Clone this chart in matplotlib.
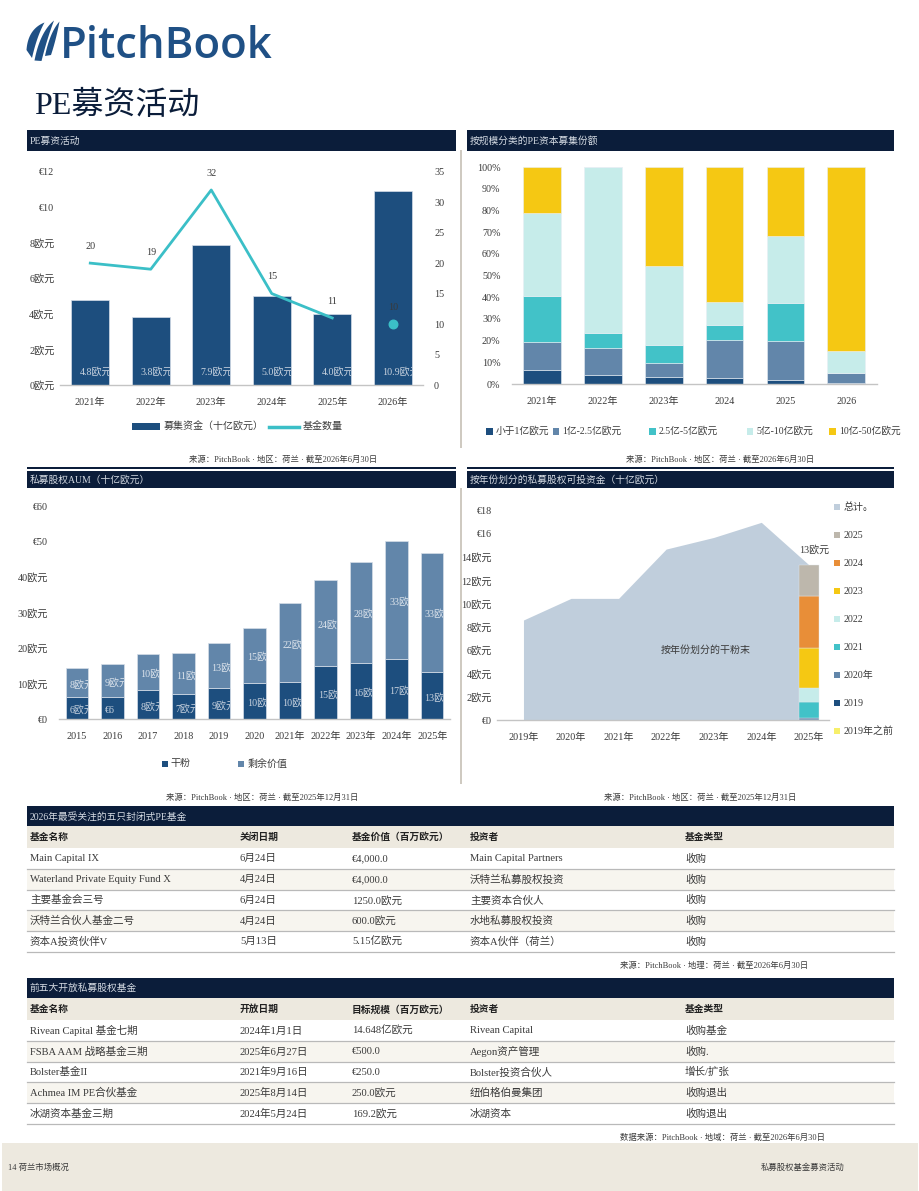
import numpy as np
import matplotlib
matplotlib.use('Agg')
import matplotlib.pyplot as plt
from matplotlib.patches import Rectangle, Polygon

FAM = ['Liberation Serif', 'Noto Sans CJK SC']
plt.rcParams['font.family'] = FAM
plt.rcParams['axes.unicode_minus'] = False

W, H = 920, 1191

# ---------------- data ----------------
fund_years = ['2021年', '2022年', '2023年', '2024年', '2025年', '2026年']
capital_raised = [4.8, 3.8, 7.9, 5.0, 4.0, 10.9]
capital_labels = ['4.8欧元', '3.8欧元', '7.9欧元', '5.0欧元', '4.0欧元', '10.9欧元']
fund_count = [20, 19, 32, 15, 11, 10]
left_ticks_1 = [0, 2, 4, 6, 8, 10, 12]
left_ticklabels_1 = ['0欧元', '2欧元', '4欧元', '6欧元', '8欧元', '€10', '€12']
right_ticks_1 = [0, 5, 10, 15, 20, 25, 30, 35]

size_years = ['2021年', '2022年', '2023年', '2024', '2025', '2026']
size_buckets = ['小于1亿欧元', '1亿-2.5亿欧元', '2.5亿-5亿欧元', '5亿-10亿欧元', '10亿-50亿欧元']
share_lt100m = [6.5, 4.0, 3.4, 2.9, 1.8, 0.5]
share_100_250m = [12.7, 12.5, 6.1, 17.3, 18.2, 4.4]
share_250_500m = [21.6, 7.2, 8.3, 7.2, 17.4, 0.0]
share_500m_1b = [38.3, 76.3, 36.7, 10.3, 30.9, 10.5]
share_1b_5b = [20.9, 0.0, 45.5, 62.3, 31.7, 84.6]
pct_ticks = [0, 10, 20, 30, 40, 50, 60, 70, 80, 90, 100]
pct_ticklabels = ['0%', '10%', '20%', '30%', '40%', '50%', '60%', '70%', '80%', '90%', '100%']

aum_years = ['2015', '2016', '2017', '2018', '2019', '2020', '2021年', '2022年', '2023年', '2024年', '2025年']
dry_powder = [6.3, 6.2, 8.3, 7.2, 8.7, 10.3, 10.5, 14.9, 15.9, 17.1, 13.4]
remaining_value = [8.1, 9.4, 10.0, 11.4, 12.9, 15.4, 22.1, 24.4, 28.4, 33.1, 33.4]
dry_labels = ['6欧元', '€6', '8欧元', '7欧元', '9欧元', '10欧元', '10欧元', '15欧元', '16欧元', '17欧元', '13欧元']
rem_labels = ['8欧元', '9欧元', '10欧元', '11欧元', '13欧元', '15欧元', '22欧元', '24欧元', '28欧元', '33欧元', '33欧元']
aum_ticks = [0, 10, 20, 30, 40, 50, 60]
aum_ticklabels = ['€0', '10欧元', '20欧元', '30欧元', '40欧元', '€50', '€60']

dp_years = ['2019年', '2020年', '2021年', '2022年', '2023年', '2024年', '2025年']
dp_total = [8.6, 10.46, 10.46, 14.7, 15.7, 17.0, 13.35]
vintages = ['2019年之前', '2019', '2020年', '2021', '2022', '2023', '2024', '2025']
vintage_values = [0.0, 0.04, 0.13, 1.38, 1.24, 3.40, 4.44, 2.72]
dp_ticks = [0, 2, 4, 6, 8, 10, 12, 14, 16, 18]
dp_ticklabels = ['€0', '2欧元', '4欧元', '6欧元', '8欧元', '10欧元', '12欧元', '14欧元', '€16', '€18']
dp_legend = ['总计。', '2025', '2024', '2023', '2022', '2021', '2020年', '2019', '2019年之前']

closed_header = ['基金名称', '关闭日期', '基金价值（百万欧元）', '投资者', '基金类型']
closed_rows = [
    ['Main Capital IX', '6月24日', '€4,000.0', 'Main Capital Partners', '收购'],
    ['Waterland Private Equity Fund X', '4月24日', '€4,000.0', '沃特兰私募股权投资', '收购'],
    ['主要基金会三号', '6月24日', '1250.0欧元', '主要资本合伙人', '收购'],
    ['沃特兰合伙人基金二号', '4月24日', '600.0欧元', '水地私募股权投资', '收购'],
    ['资本A投资伙伴V', '5月13日', '5.15亿欧元', '资本A伙伴（荷兰）', '收购'],
]
open_header = ['基金名称', '开放日期', '目标规模（百万欧元）', '投资者', '基金类型']
open_rows = [
    ['Rivean Capital 基金七期', '2024年1月1日', '14.648亿欧元', 'Rivean Capital', '收购基金'],
    ['FSBA AAM 战略基金三期', '2025年6月27日', '€500.0', 'Aegon资产管理', '收购.'],
    ['Bolster基金II', '2021年9月16日', '€250.0', 'Bolster投资合伙人', '增长/扩张'],
    ['Achmea IM PE合伙基金', '2025年8月14日', '250.0欧元', '纽伯格伯曼集团', '收购退出'],
    ['冰湖资本基金三期', '2024年5月24日', '169.2欧元', '冰湖资本', '收购退出'],
]

# ---------------- colours ----------------
NAVY_BAND = '#0b1d3a'
NAVY = '#1d4e7e'
STEEL = '#6286aa'
TEAL = '#42c2c8'
LCYAN = '#c6ecea'
YELLOW = '#f5c813'
ORANGE = '#e88e38'
GREY = '#bdb7ac'
LYELLOW = '#f7ef6a'
AREA = '#c0cedc'
LINE = '#3bbfc7'
BEIGE = '#ede9df'
ALT = '#f7f5ef'
TXT = '#3a3a3a'
BANDTXT = '#d5dbe3'
TICK_FS = 7.3

fig = plt.figure(figsize=(W / 100, H / 100), dpi=100)
fig.patch.set_facecolor('white')

bg = fig.add_axes([0, 0, 1, 1])
bg.set_xlim(0, W)
bg.set_ylim(H, 0)
bg.axis('off')
bg.set_zorder(0)


def add_ax(l, t, r, b):
    a = fig.add_axes([l / W, 1 - b / H, (r - l) / W, (b - t) / H])
    a.set_zorder(2)
    a.patch.set_alpha(0)
    for s in ['top', 'right', 'left']:
        a.spines[s].set_visible(False)
    a.spines['bottom'].set_color('#c4c4c4')
    a.spines['bottom'].set_linewidth(1.0)
    a.tick_params(length=0, labelsize=TICK_FS, colors=TXT)
    return a


def rect(x0, y0, x1, y1, color, z=1):
    bg.add_patch(Rectangle((x0, y0), x1 - x0, y1 - y0, facecolor=color, edgecolor='none', zorder=z))


def band(x0, y0, x1, y1, title):
    rect(x0, y0, x1, y1, NAVY_BAND)
    bg.text(x0 + 3, (y0 + y1) / 2 + 0.5, title, color=BANDTXT, fontsize=7, va='center', ha='left', zorder=3)


def legend_sq(x, y, color, label, size=6.7, fs=7.2):
    rect(x, y - size / 2, x + size, y + size / 2, color, z=3)
    bg.text(x + size + 3, y, label, fontsize=fs, color=TXT, va='center', ha='left', zorder=3)


# ---------------- logo & page title ----------------
def qbez(p0, p1, p2, n=24):
    t = np.linspace(0, 1, n)[:, None]
    p0, p1, p2 = map(np.array, (p0, p1, p2))
    return (1 - t) ** 2 * p0 + 2 * (1 - t) * t * p1 + t ** 2 * p2


def sail(bl, top, br, c1, c2):
    pts = np.vstack([qbez(bl, c1, top), qbez(top, c2, br)])
    bg.add_patch(Polygon(pts, closed=True, facecolor='#1f5085', edgecolor='none', zorder=3))


sail((26.5, 50), (44.5, 22.5), (32, 58), (28, 29), (37, 36))
sail((34.5, 60.5), (54, 20.5), (41.5, 61), (40, 32), (47, 39))
sail((45, 56), (59.5, 21.5), (51, 55), (50, 32), (56, 40))
bg.text(60, 58.5, 'PitchBook', family=['Open Sans', 'DejaVu Sans'], fontweight='semibold',
        fontsize=31.5, color='#1f5085', va='baseline', ha='left', zorder=3)
bg.text(34, 106, 'PE募资活动', fontsize=23, color=NAVY_BAND, va='center', ha='left', zorder=3)

# ---------------- section frames ----------------
band(26.7, 130, 456, 150.7, 'PE募资活动')
band(466.7, 130, 894, 150.7, '按规模分类的PE资本募集份额')
rect(26.7, 467.3, 456, 469.5, NAVY_BAND)
rect(466.7, 467.3, 894, 469.5, NAVY_BAND)
band(26.7, 471, 456, 488.3, '私募股权AUM（十亿欧元）')
band(466.7, 471, 894, 488.3, '按年份划分的私募股权可投资金（十亿欧元）')
rect(460.3, 150, 461.8, 448, '#cfcac1')
rect(460.3, 488, 461.8, 784, '#cfcac1')

# ---------------- chart 1: capital raised & fund count ----------------
ax1 = add_ax(60, 171.7, 423, 385)
x1 = np.arange(len(fund_years))
bars1 = ax1.bar(x1, capital_raised, width=0.63, color=NAVY, edgecolor='#d6dee8', linewidth=0.5)
ax1.set_xlim(-0.5, 5.5)
ax1.set_ylim(0, 12)
ax1.set_yticks(left_ticks_1)
ax1.set_yticklabels(left_ticklabels_1)
ax1.set_xticks(x1)
ax1.set_xticklabels(fund_years)
ax1.tick_params(axis='y', pad=4)
ax1.tick_params(axis='x', pad=9)
for b, lab in zip(bars1, capital_labels):
    t = ax1.text(b.get_x() + 0.14, 0.75, lab, color='#c9d3df', fontsize=7.2, ha='left', va='center')
    t.set_clip_path(b)
    t.set_clip_on(True)

ax1b = ax1.twinx()
ax1b.set_zorder(3)
ax1b.patch.set_alpha(0)
for s in ax1b.spines.values():
    s.set_visible(False)
ax1b.set_ylim(0, 35)
ax1b.set_yticks(right_ticks_1)
ax1b.tick_params(length=0, labelsize=TICK_FS, colors=TXT, pad=8)
ax1b.plot(x1[:5], fund_count[:5], color=LINE, lw=2)
ax1b.scatter([x1[5]], [fund_count[5]], s=38, color=LINE, zorder=4)
for xi, v in zip(x1, fund_count):
    ax1b.annotate(str(v), (xi, v), xytext=(0, 12), textcoords='offset points',
                  ha='center', va='center', fontsize=7.3, color=TXT)

rect(131.7, 423.3, 160, 429.8, NAVY, z=3)
bg.text(164, 427, '募集资金（十亿欧元）', fontsize=7.2, color=TXT, va='center', zorder=3)
bg.plot([269.3, 299.3], [426.7, 426.7], color=LINE, lw=2.5, zorder=3)
bg.text(302.7, 427, '基金数量', fontsize=7.2, color=TXT, va='center', zorder=3)
bg.text(283, 459.5, '来源：PitchBook · 地区：荷兰 · 截至2026年6月30日', fontsize=6, color=TXT,
        ha='center', va='center', zorder=3)

# ---------------- chart 2: share by size ----------------
ax2 = add_ax(511.7, 167.3, 876.7, 384)
x2 = np.arange(len(size_years))
series2 = [share_lt100m, share_100_250m, share_250_500m, share_500m_1b, share_1b_5b]
colors2 = [NAVY, STEEL, TEAL, LCYAN, YELLOW]
bottom = np.zeros(len(size_years))
for vals, c in zip(series2, colors2):
    ax2.bar(x2, vals, bottom=bottom, width=0.62, color=c, edgecolor='#e8eef4', linewidth=0.4)
    bottom += np.array(vals)
ax2.set_xlim(-0.5, 5.5)
ax2.set_ylim(0, 100)
ax2.set_yticks(pct_ticks)
ax2.set_yticklabels(pct_ticklabels)
ax2.set_xticks(x2)
ax2.set_xticklabels(size_years)
ax2.tick_params(axis='y', pad=8)
ax2.tick_params(axis='x', pad=9)
leg2_x = [486, 552.7, 649.3, 746.7, 829.3]
for lx, c, lab in zip(leg2_x, colors2, size_buckets):
    legend_sq(lx, 431.5, c, lab, fs=7)
bg.text(720.5, 459.5, '来源：PitchBook · 地区：荷兰 · 截至2026年6月30日', fontsize=6, color=TXT,
        ha='center', va='center', zorder=3)

# ---------------- chart 3: AUM ----------------
ax3 = add_ax(59, 506, 450, 719.3)
x3 = np.arange(len(aum_years))
b_dry = ax3.bar(x3, dry_powder, width=0.63, color=NAVY, edgecolor='#d6dee8', linewidth=0.5)
b_rem = ax3.bar(x3, remaining_value, bottom=dry_powder, width=0.63, color=STEEL,
                edgecolor='#d6dee8', linewidth=0.5)
ax3.set_xlim(-0.5, 10.5)
ax3.set_ylim(0, 60)
ax3.set_yticks(aum_ticks)
ax3.set_yticklabels(aum_ticklabels)
ax3.set_xticks(x3)
ax3.set_xticklabels(aum_years)
ax3.tick_params(axis='y', pad=8)
ax3.tick_params(axis='x', pad=9)
for b, lab, d in zip(b_dry, dry_labels, dry_powder):
    t = ax3.text(b.get_x() + 0.1, d / 2 - 0.6, lab, color='#c9d3df', fontsize=7.2, ha='left', va='center')
    t.set_clip_path(b)
    t.set_clip_on(True)
for b, lab, d, r in zip(b_rem, rem_labels, dry_powder, remaining_value):
    t = ax3.text(b.get_x() + 0.1, d + r / 2 - 0.6, lab, color='#dde4ec', fontsize=7.2, ha='left', va='center')
    t.set_clip_path(b)
    t.set_clip_on(True)
legend_sq(161.7, 763.7, NAVY, '干粉', size=6)
legend_sq(238.3, 763.7, STEEL, '剩余价值', size=6)
bg.text(262, 797.5, '来源：PitchBook · 地区：荷兰 · 截至2025年12月31日', fontsize=6, color=TXT,
        ha='center', va='center', zorder=3)

# ---------------- chart 4: dry powder by vintage ----------------
ax4 = add_ax(497.3, 510.7, 829.3, 720)
x4 = np.arange(len(dp_years))
ax4.fill_between(x4, 0, dp_total, color=AREA, linewidth=0)
colors4 = [LYELLOW, NAVY, STEEL, TEAL, LCYAN, YELLOW, ORANGE, GREY]
bot = 0.0
for v, c in zip(vintage_values, colors4):
    ax4.bar([x4[-1]], [v], bottom=[bot], width=0.41, color=c, edgecolor='#e3e8ee', linewidth=0.3)
    bot += v
ax4.annotate('13欧元', (x4[-1], bot), xytext=(4, 11), textcoords='offset points',
             ha='center', va='center', fontsize=7.2, color=TXT)
ax4.text(3.83, 6.0, '按年份划分的干粉末', fontsize=7.2, color=TXT, ha='center', va='center')
ax4.set_xlim(-0.55, 6.43)
ax4.set_ylim(0, 18)
ax4.set_yticks(dp_ticks)
ax4.set_yticklabels(dp_ticklabels)
ax4.set_xticks(x4)
ax4.set_xticklabels(dp_years)
ax4.tick_params(axis='y', pad=4)
ax4.tick_params(axis='x', pad=9)
leg4_colors = [AREA, GREY, ORANGE, YELLOW, LCYAN, TEAL, STEEL, NAVY, LYELLOW]
for i, (c, lab) in enumerate(zip(leg4_colors, dp_legend)):
    legend_sq(834.3, 507.3 + i * 28, c, lab, size=6)
bg.text(700.5, 797.5, '来源：PitchBook · 地区：荷兰 · 截至2025年12月31日', fontsize=6, color=TXT,
        ha='center', va='center', zorder=3)

# ---------------- tables ----------------
col_x = [30, 240, 352, 470, 685]


def table(top, title, header, rows, source, src_x):
    band(26.7, top, 894, top + 20, title)
    rect(26.7, top + 20, 894, top + 42, BEIGE)
    for cx, h in zip(col_x, header):
        bg.text(cx, top + 31.5, h, fontsize=7, fontweight='bold', color='#222222', va='center', zorder=3)
    row_h = 20.8
    for i, row in enumerate(rows):
        y0 = top + 42 + i * row_h
        if i % 2 == 1:
            rect(26.7, y0, 894, y0 + row_h, ALT)
        bg.plot([26.7, 894], [y0 + row_h, y0 + row_h], color='#b9b9b9', lw=0.9, zorder=2)
        for cx, cell in zip(col_x, row):
            bg.text(cx, y0 + row_h / 2 + 0.3, cell, fontsize=7.6, color=TXT, va='center', zorder=3)
    bg.text(src_x, top + 42 + 5 * row_h + 13.5, source, fontsize=6, color=TXT, va='center', ha='left', zorder=3)


table(806, '2026年最受关注的五只封闭式PE基金', closed_header, closed_rows,
      '来源：PitchBook · 地理：荷兰 · 截至2026年6月30日', 620)
table(978, '前五大开放私募股权基金', open_header, open_rows,
      '数据来源：PitchBook · 地域：荷兰 · 截至2026年6月30日', 620)

# ---------------- footer ----------------
rect(2, 1143, 918, 1191, BEIGE)
bg.text(8, 1168, '14 荷兰市场概况', fontsize=6, color=TXT, va='center', ha='left', zorder=3)
bg.text(845, 1168, '私募股权基金募资活动', fontsize=6, color=TXT, va='center', ha='right', zorder=3)

fig.savefig('out.png', dpi=100, facecolor='white')
